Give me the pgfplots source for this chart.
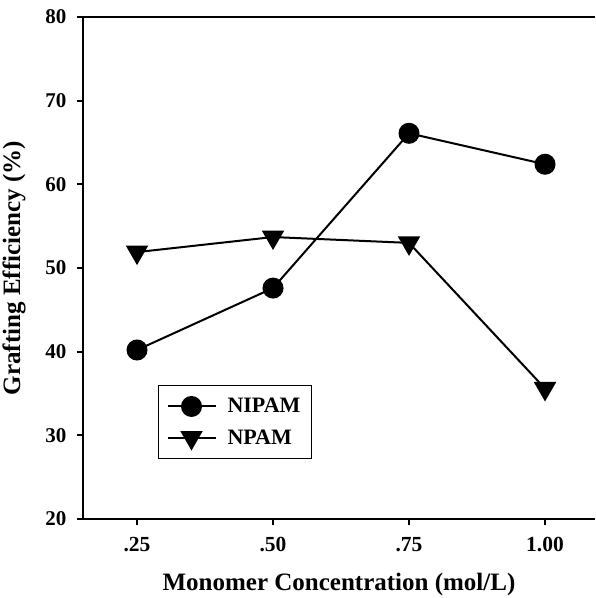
\documentclass[border=0pt]{standalone}
\usepackage{pgfplots}
\pgfplotsset{compat=1.18}
\usepackage{fontspec}
\setmainfont{Liberation Serif}

\begin{document}
\begin{tikzpicture}
\begin{axis}[
    scale only axis,
    width=512pt, height=502pt,
    xmin=0.1507, xmax=1.0919,
    ymin=20, ymax=80,
    axis x line=box,
    axis y line=left,
    axis line style={line width=2.4pt, -},
    xtick={0.25,0.5,0.75,1.0},
    xticklabels={.25,.50,.75,1.00},
    ytick={20,30,40,50,60,70,80},
    xtick pos=left, ytick pos=left,
    tick align=outside,
    major tick length=6pt,
    tick style={line width=2pt, black},
    /pgf/number format/assume math mode=true,
    yticklabel style={font=\fontsize{21}{25}\selectfont\bfseries, xshift=-7pt},
    xticklabel style={font=\fontsize{21.5}{25}\selectfont\bfseries, yshift=-9pt},
    xlabel={Monomer Concentration (mol/L)},
    ylabel={Grafting Efficiency (\%)},
    label style={font=\fontsize{25}{29}\selectfont\bfseries},
    xlabel style={at={(axis description cs:0.5,0)}, anchor=north, yshift=-51pt},
    ylabel style={at={(axis description cs:0,0.5)}, anchor=north, yshift=84pt},
    legend style={
        at={(axis description cs:0.1465,0.267)}, anchor=north west,
        draw=black, line width=1pt,
        font=\fontsize{22}{26}\selectfont\bfseries,
        inner xsep=8pt, inner ysep=10pt,
        nodes={inner xsep=3pt, inner ysep=3pt},
        column sep=8pt,
        row sep=9pt,
    },
    legend cell align=left,
    legend image code/.code={
        \draw[mark repeat=2, mark phase=2, #1]
        plot coordinates {(0pt,0pt) (24pt,0pt) (48pt,0pt)};
    },
]

% NIPAM
\addplot[black, line width=2pt, mark=*, mark size=9.5pt,
    mark options={fill=black}] coordinates {
    (0.25, 40.2)
    (0.50, 47.6)
    (0.75, 66.1)
    (1.00, 62.4)
};
\addlegendentry{NIPAM}

% NPAM
\addplot[black, line width=2pt, mark=triangle*, mark size=11pt,
    mark options={fill=black, rotate=180}] coordinates {
    (0.25, 51.9)
    (0.50, 53.7)
    (0.75, 53.0)
    (1.00, 35.6)
};
\addlegendentry{NPAM}

\coordinate (sw) at (rel axis cs:0,0);
\coordinate (ne) at (rel axis cs:1,1);
\end{axis}
\pgfresetboundingbox
\path[use as bounding box] ([xshift=-83pt,yshift=-79pt]sw) rectangle ([yshift=17pt]ne);
\end{tikzpicture}
\end{document}
